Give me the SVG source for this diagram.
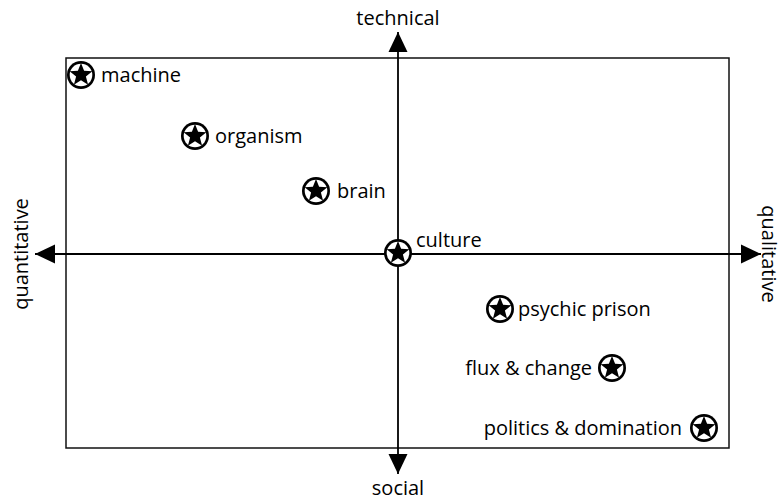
<svg xmlns="http://www.w3.org/2000/svg" width="783" height="500" viewBox="0 0 783 500">
  <style>
    .lbl { font-family: "Open Sans", "Liberation Sans", sans-serif; font-size: 20px; fill: #000; }
    .axis { stroke: #000; stroke-width: 1.8; fill: none; }
    .frame { stroke: #111; stroke-width: 1.5; fill: #fff; }
  </style>
  <defs>
    <marker id="arrow" viewBox="0 0 20 20" refX="20" refY="10" markerWidth="20" markerHeight="20" markerUnits="userSpaceOnUse" orient="auto">
      <path d="M0,0.5 L20,10 L0,19.5 Z" fill="#000"/>
    </marker>
    <g id="badge">
      <circle r="14" fill="#000"/>
      <circle r="11.3" fill="#fff"/>
      <polygon fill="#000" points="0,-12 3.1,-4.2 11.4,-3.7 4.9,1.6 7.1,9.7 0,5.2 -7.1,9.7 -4.9,1.6 -11.4,-3.7 -3.1,-4.2"/>
    </g>
  </defs>

  <rect class="frame" x="66" y="58" width="663" height="390"/>

  <g id="connectors">
    <line class="axis" x1="398" y1="254" x2="35" y2="254" marker-end="url(#arrow)"/>
    <line class="axis" x1="398" y1="254" x2="761" y2="254" marker-end="url(#arrow)"/>
    <line class="axis" x1="398" y1="254" x2="398" y2="32" marker-end="url(#arrow)"/>
    <line class="axis" x1="398" y1="254" x2="398" y2="474" marker-end="url(#arrow)"/>
  </g>

  <g id="axis-labels">
    <text class="lbl" x="398" y="25" text-anchor="middle">technical</text>
    <text class="lbl" x="398" y="495" text-anchor="middle">social</text>
    <text class="lbl" transform="translate(28,254) rotate(-90)" text-anchor="middle">quantitative</text>
    <text class="lbl" transform="translate(762,254) rotate(90)" text-anchor="middle">qualitative</text>
  </g>

  <g id="machine">
    <use href="#badge" x="81" y="75"/>
    <text class="lbl" x="101" y="82">machine</text>
  </g>
  <g id="organism">
    <use href="#badge" x="195" y="136"/>
    <text class="lbl" x="215" y="143">organism</text>
  </g>
  <g id="brain">
    <use href="#badge" x="316" y="191"/>
    <text class="lbl" x="337" y="198">brain</text>
  </g>
  <g id="culture">
    <use href="#badge" x="398" y="253"/>
    <text class="lbl" x="416" y="247">culture</text>
  </g>
  <g id="psychic-prison">
    <use href="#badge" x="500" y="309"/>
    <text class="lbl" x="518" y="316">psychic prison</text>
  </g>
  <g id="flux-change">
    <use href="#badge" x="612" y="368"/>
    <text class="lbl" x="592" y="375" text-anchor="end">flux &amp; change</text>
  </g>
  <g id="politics-domination">
    <use href="#badge" x="704" y="428"/>
    <text class="lbl" x="682" y="435" text-anchor="end">politics &amp; domination</text>
  </g>
</svg>
